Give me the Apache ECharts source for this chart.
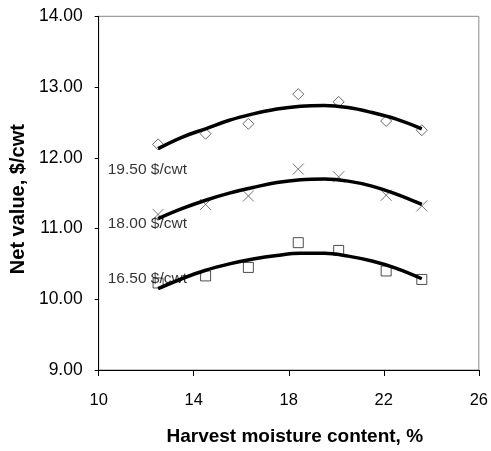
<!DOCTYPE html>
<html>
<head>
<meta charset="utf-8">
<script src="https://cdn.jsdelivr.net/npm/echarts@6/dist/echarts.min.js"></script>
<style>
  html, body { margin: 0; padding: 0; background: #fff; }
  #chart { width: 491px; height: 451px; }
</style>
</head>
<body>
<div id="chart"></div>
<script>
// harvest moisture content, %
const moisture = [12.5, 14.5, 16.3, 18.4, 20.1, 22.1, 23.6];

// net value, $/cwt, one array per corn price
const net1950 = [12.19, 12.34, 12.48, 12.90, 12.79, 12.52, 12.39];
const net1800 = [11.20, 11.34, 11.46, 11.84, 11.73, 11.47, 11.32];
const net1650 = [10.23, 10.33, 10.45, 10.80, 10.69, 10.40, 10.28];

// fitted trend curves
const curveX = [12.5, 13.5, 14.5, 15.5, 16.5, 17.5, 18.5, 19.5, 20.5, 21.5, 22.5, 23.6];
const curve1950 = [12.13, 12.29, 12.41, 12.53, 12.62, 12.69, 12.73, 12.74, 12.71, 12.64, 12.55, 12.41];
const curve1800 = [11.14, 11.28, 11.40, 11.50, 11.58, 11.65, 11.69, 11.70, 11.67, 11.60, 11.49, 11.34];
const curve1650 = [10.15, 10.29, 10.41, 10.50, 10.57, 10.62, 10.65, 10.65, 10.61, 10.54, 10.44, 10.29];

// series labels and where they sit (data units)
const labelText = ['19.50 $/cwt', '18.00 $/cwt', '16.50 $/cwt'];
const labelX = [10.38, 10.38, 10.38];
const labelY = [11.83, 11.07, 10.29];

const xTicks = [10, 14, 18, 22, 26];
const yTicks = [9, 10, 11, 12, 13, 14];

const pair = (xs, ys) => xs.map((x, i) => [x, ys[i]]);
const font = 'Liberation Sans, Arial, sans-serif';

const chart = echarts.init(document.getElementById('chart'));

const curveSeries = (data) => ({
  type: 'line',
  data: pair(curveX, data),
  smooth: 0.4,
  showSymbol: false,
  lineStyle: { color: '#000', width: 3.5 },
  z: 3,
  silent: true,
});

const pointSeries = (data, symbol, size, color) => ({
  type: 'scatter',
  data: pair(moisture, data),
  symbol: symbol,
  symbolSize: size,
  itemStyle: { color: '#fff', borderColor: color, borderWidth: 1 },
  z: 2,
});

chart.setOption({
  animation: false,
  textStyle: { fontFamily: font },
  grid: {
    left: 98.3, top: 16.3, right: 11, bottom: 74.3,
    show: true, borderColor: '#888', borderWidth: 1, backgroundColor: '#fff',
  },
  xAxis: {
    type: 'value',
    min: xTicks[0],
    max: xTicks[xTicks.length - 1],
    interval: 4,
    name: 'Harvest moisture content, %',
    nameLocation: 'middle',
    nameGap: 57,
    nameTextStyle: {
      fontSize: 19, fontWeight: 'bold', color: '#000', fontFamily: font,
      padding: [0, 0, 0, 12],
    },
    axisLine: { onZero: false, lineStyle: { color: '#000', width: 1 } },
    axisTick: { inside: false, length: 6, lineStyle: { color: '#000' } },
    axisLabel: { fontSize: 16.5, color: '#000', margin: 22, fontFamily: font },
    splitLine: { show: false },
  },
  yAxis: {
    type: 'value',
    min: yTicks[0],
    max: yTicks[yTicks.length - 1],
    interval: 1,
    name: 'Net value, $/cwt',
    nameLocation: 'middle',
    nameGap: 70,
    nameTextStyle: {
      fontSize: 20, fontWeight: 'bold', color: '#000', fontFamily: font,
      padding: [0, 12, 0, 0],
    },
    axisLine: { show: true, onZero: false, lineStyle: { color: '#000', width: 1 } },
    axisTick: { show: true, inside: false, length: 4, lineStyle: { color: '#000' } },
    axisLabel: {
      fontSize: 17.5, color: '#000', margin: 16, fontFamily: font,
      formatter: (v) => v.toFixed(2),
    },
    splitLine: { show: false },
  },
  series: [
    pointSeries(net1950, 'diamond', 11, '#444'),
    pointSeries(net1800, 'path://M0,0L10,10M10,0L0,10', 11, '#555'),
    pointSeries(net1650, 'rect', 10, '#222'),
    curveSeries(curve1950),
    curveSeries(curve1800),
    curveSeries(curve1650),
    {
      type: 'scatter',
      data: labelText.map((t, i) => [labelX[i], labelY[i], t]),
      symbolSize: 0,
      z: 4,
      silent: true,
      label: {
        show: true,
        position: 'right',
        distance: 0,
        formatter: (p) => p.data[2],
        fontSize: 15.5,
        color: '#000',
        fontFamily: font,
      },
    },
  ],
});
</script>
</body>
</html>
